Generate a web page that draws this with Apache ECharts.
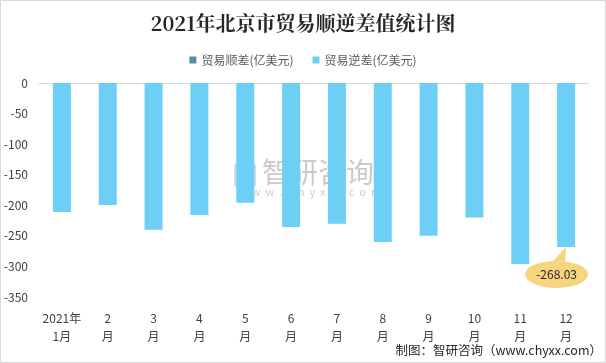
<!DOCTYPE html>
<html>
<head>
<meta charset="utf-8">
<script src="https://cdn.jsdelivr.net/npm/echarts@6/dist/echarts.min.js"></script>
<style>
html,body{margin:0;padding:0;background:#fff;}
#c{width:606px;height:363px;}
</style>
</head>
<body>
<div id="c"></div>
<script>
var categories = ['2021年\n1月','2\n月','3\n月','4\n月','5\n月','6\n月','7\n月','8\n月','9\n月','10\n月','11\n月','12\n月'];
var surplus = [0,0,0,0,0,0,0,0,0,0,0,0];
var deficit = [-211,-199.5,-240,-216,-196,-235.5,-230,-260,-250,-220,-296,-268.03];
var yTicks = {min:-350, max:0, interval:50};
var calloutIndex = 11;

var chart = echarts.init(document.getElementById('c'));
var F = 'Noto Sans CJK SC';
chart.setOption({
  backgroundColor:'#fff',
  animation:false,
  title:{
    text:'2021年北京市贸易顺逆差值统计图',
    left:'center', top:8,
    textStyle:{fontFamily:'Noto Serif CJK SC, Noto Sans CJK SC', fontSize:20, fontWeight:'bold', color:'#262626'}
  },
  legend:{
    top:49, left:'center',
    itemWidth:7, itemHeight:7, itemGap:19,
    icon:'rect',
    textStyle:{fontFamily:F, fontSize:12, color:'#595959'},
    data:['贸易顺差(亿美元)','贸易逆差(亿美元)']
  },
  grid:{left:39, right:17, top:83, bottom:66},
  xAxis:[
    {type:'category', data:categories, position:'top', axisLine:{lineStyle:{color:'#d9d9d9'}}, axisTick:{show:false}, axisLabel:{show:false}},
    {type:'category', data:categories, position:'bottom', axisLine:{show:false}, axisTick:{show:false},
     axisLabel:{interval:0, fontFamily:F, fontSize:12, color:'#404040', margin:12, lineHeight:18}}
  ],
  yAxis:{
    type:'value',
    min:yTicks.min, max:yTicks.max, interval:yTicks.interval,
    splitLine:{show:false},
    axisLine:{show:false},
    axisTick:{show:false},
    axisLabel:{fontFamily:F, fontSize:12, color:'#404040', margin:11}
  },
  series:[
    {
      name:'贸易顺差(亿美元)', type:'bar', data:surplus, barWidth:18, barGap:'-100%',
      itemStyle:{color:'#5B8EA6'}
    },
    {
      name:'贸易逆差(亿美元)', type:'bar', data:deficit, barWidth:18,
      itemStyle:{color:'#6DCFF6'},
      markPoint:{
        symbol:'path://M41,0 L40,14.5 A31.5,13.5 0 1 1 28,14.08 Z',
        symbolSize:[63,41],
        symbolOffset:[-9.5,20.5],
        itemStyle:{color:'#F7D57F'},
        label:{show:true, fontFamily:F, fontSize:12, color:'#262626', offset:[0,7],
          formatter:function(p){return p.value.toFixed(2);}},
        data:[{coord:[calloutIndex, deficit[calloutIndex]], value:deficit[calloutIndex]}]
      }
    },
    {type:'bar', data:[], xAxisIndex:1}
  ],
  graphic:[
    {type:'rect', shape:{x:0.5,y:0.5,width:605,height:362}, style:{fill:'none', stroke:'#d9d9d9', lineWidth:1}, silent:true, z:-1},
    {type:'group', silent:true, z:100, children:[
      {type:'rect', shape:{x:234,y:163,width:22,height:24,r:3}, style:{fill:'rgba(120,150,200,0.35)'}},
      {type:'text', x:236, y:164, style:{text:'Z', font:'bold 20px '+F, fill:'rgba(255,255,255,0.7)'}},
      {type:'text', x:262, y:158, style:{text:'智研咨询', font:'28px '+F, fill:'rgba(150,150,150,0.5)'}},
      {type:'text', x:238, y:186, style:{text:'w  w  w  .  c  h  y  x  x  .  c  o  m', font:'11px '+F, fill:'rgba(150,150,150,0.5)'}}
    ]},
    {type:'text', right:4, top:344, style:{text:'制图：智研咨询（www.chyxx.com）', font:'12.5px '+F, fill:'#262626'}}
  ]
});
</script>
</body>
</html>
